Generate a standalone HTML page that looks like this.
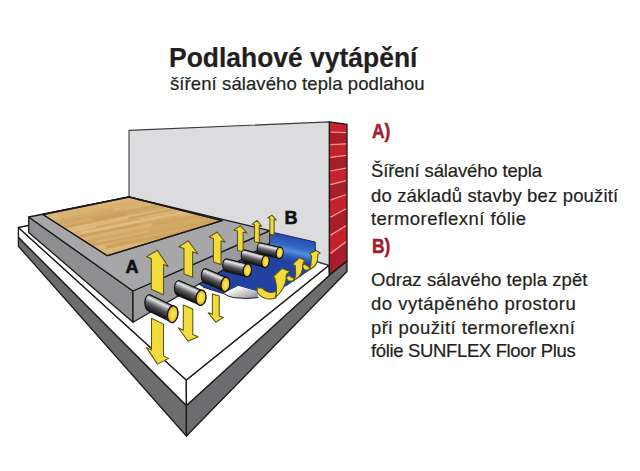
<!DOCTYPE html>
<html><head><meta charset="utf-8">
<style>
html,body{margin:0;padding:0;background:#fff;}
body{width:640px;height:471px;position:relative;overflow:hidden;font-family:"Liberation Sans",sans-serif;color:#231f20;}
.t{position:absolute;white-space:nowrap;line-height:1;-webkit-text-stroke:0.2px #231f20;}
svg{position:absolute;left:0;top:0;}
</style></head><body>
<svg width="640" height="471" viewBox="0 0 640 471">
<defs>
<linearGradient id="pg0" gradientUnits="userSpaceOnUse" x1="164.5" y1="301.7" x2="157.9" y2="315.5"><stop offset="0" stop-color="#303032"/><stop offset=".08" stop-color="#9a9a9c"/><stop offset=".2" stop-color="#e8e8ea"/><stop offset=".32" stop-color="#b0b0b2"/><stop offset=".55" stop-color="#5a5a5c"/><stop offset=".85" stop-color="#252527"/><stop offset="1" stop-color="#101012"/></linearGradient><linearGradient id="pg1" gradientUnits="userSpaceOnUse" x1="192.9" y1="286.5" x2="187.2" y2="299.4"><stop offset="0" stop-color="#303032"/><stop offset=".08" stop-color="#9a9a9c"/><stop offset=".2" stop-color="#e8e8ea"/><stop offset=".32" stop-color="#b0b0b2"/><stop offset=".55" stop-color="#5a5a5c"/><stop offset=".85" stop-color="#252527"/><stop offset="1" stop-color="#101012"/></linearGradient><linearGradient id="pg2" gradientUnits="userSpaceOnUse" x1="218.1" y1="273.9" x2="212.8" y2="286.3"><stop offset="0" stop-color="#303032"/><stop offset=".08" stop-color="#9a9a9c"/><stop offset=".2" stop-color="#e8e8ea"/><stop offset=".32" stop-color="#b0b0b2"/><stop offset=".55" stop-color="#5a5a5c"/><stop offset=".85" stop-color="#252527"/><stop offset="1" stop-color="#101012"/></linearGradient><linearGradient id="pg3" gradientUnits="userSpaceOnUse" x1="238.5" y1="261.7" x2="235.4" y2="273.9"><stop offset="0" stop-color="#303032"/><stop offset=".08" stop-color="#9a9a9c"/><stop offset=".2" stop-color="#e8e8ea"/><stop offset=".32" stop-color="#b0b0b2"/><stop offset=".55" stop-color="#5a5a5c"/><stop offset=".85" stop-color="#252527"/><stop offset="1" stop-color="#101012"/></linearGradient><linearGradient id="pg4" gradientUnits="userSpaceOnUse" x1="256.5" y1="253.1" x2="253.5" y2="264.2"><stop offset="0" stop-color="#303032"/><stop offset=".08" stop-color="#9a9a9c"/><stop offset=".2" stop-color="#e8e8ea"/><stop offset=".32" stop-color="#b0b0b2"/><stop offset=".55" stop-color="#5a5a5c"/><stop offset=".85" stop-color="#252527"/><stop offset="1" stop-color="#101012"/></linearGradient><linearGradient id="pg5" gradientUnits="userSpaceOnUse" x1="271.3" y1="245.3" x2="268.8" y2="255.9"><stop offset="0" stop-color="#303032"/><stop offset=".08" stop-color="#9a9a9c"/><stop offset=".2" stop-color="#e8e8ea"/><stop offset=".32" stop-color="#b0b0b2"/><stop offset=".55" stop-color="#5a5a5c"/><stop offset=".85" stop-color="#252527"/><stop offset="1" stop-color="#101012"/></linearGradient>
<linearGradient id="foilv" gradientUnits="userSpaceOnUse" x1="292.7" y1="236.9" x2="287.8" y2="260.4">
<stop offset="0" stop-color="#284cac"/><stop offset=".4" stop-color="#3468c6"/><stop offset=".6" stop-color="#5590e0"/><stop offset=".8" stop-color="#3060c0"/><stop offset="1" stop-color="#2242a2"/>
</linearGradient>
<linearGradient id="foilh" x1="0" y1="0" x2="0" y2="1">
<stop offset="0" stop-color="#3a70cc"/><stop offset="1" stop-color="#2344a4"/>
</linearGradient>
<linearGradient id="silver" x1="0" y1="0" x2="1" y2="1">
<stop offset="0" stop-color="#d8d8da"/><stop offset=".3" stop-color="#f8f8f8"/><stop offset=".7" stop-color="#b8b8bc"/><stop offset="1" stop-color="#8a8a90"/>
</linearGradient>
<linearGradient id="wood" x1="0" y1="0" x2="1" y2="1">
<stop offset="0" stop-color="#d8b070"/><stop offset="1" stop-color="#cfa35f"/>
</linearGradient>
<clipPath id="woodclip"><polygon points="42.9,214.5 129,197 222,220.6 107.4,255.7"/></clipPath>
</defs>
<g stroke="#1a1a1a" stroke-width="1.3" stroke-linejoin="round">
<polygon points="18.4,237.3 186.4,405.5 186.4,436 18.4,246.2" fill="#6d6d6f"/>
<polygon points="186.4,405.5 329.4,275.3 347,261 347,271.5 186.4,436" fill="#6d6d6f"/>
<polygon points="18.4,227.5 186.3,380 186.4,405.5 18.4,237.3" fill="#fff"/>
<polygon points="186.3,380 328.9,265.3 329.4,275.3 186.4,405.5" fill="#fff"/>
<polygon points="18.4,227.5 129,205 328.9,265.3 186.3,380" fill="#fff"/>
<polygon points="129,130.4 329.4,121.9 329.4,265.3 129,205" fill="#dcdcde" stroke="#3a3a3a" stroke-width="1.1"/>
</g>
<g><polygon points="329.4,121.9 347.0,124.3 347.0,132.7 329.4,132.0" fill="#c7222b"/><polygon points="329.4,132.0 347.0,132.7 347.0,143.8 329.4,144.6" fill="#aa1d2a"/><polygon points="329.4,144.6 347.0,143.8 347.0,155.3 329.4,157.4" fill="#c7222b"/><polygon points="329.4,157.4 347.0,155.3 347.0,168.1 329.4,171.0" fill="#aa1d2a"/><polygon points="329.4,171.0 347.0,168.1 347.0,180.6 329.4,184.6" fill="#c7222b"/><polygon points="329.4,184.6 347.0,180.6 347.0,194.5 329.4,200.2" fill="#aa1d2a"/><polygon points="329.4,200.2 347.0,194.5 347.0,208.7 329.4,217.2" fill="#c7222b"/><polygon points="329.4,217.2 347.0,208.7 347.0,225.7 329.4,235.3" fill="#aa1d2a"/><polygon points="329.4,235.3 347.0,225.7 347.0,241.7 329.4,253.4" fill="#c7222b"/><polygon points="329.4,253.4 347.0,241.7 347.0,261.0 329.4,274.8" fill="#aa1d2a"/></g>
<g stroke="#f2a09c" stroke-width="1.25"><line x1="330.5" y1="132.0" x2="346" y2="132.7"/><line x1="330.5" y1="144.6" x2="346" y2="143.8"/><line x1="330.5" y1="157.4" x2="346" y2="155.3"/><line x1="330.5" y1="171.0" x2="346" y2="168.1"/><line x1="330.5" y1="184.6" x2="346" y2="180.6"/><line x1="330.5" y1="200.2" x2="346" y2="194.5"/><line x1="330.5" y1="217.2" x2="346" y2="208.7"/><line x1="330.5" y1="235.3" x2="346" y2="225.7"/><line x1="330.5" y1="253.4" x2="346" y2="241.7"/></g>
<polygon points="329.4,121.9 347,124.3 347,261 329.4,274.8" fill="none" stroke="#1a1a1a" stroke-width="1.3"/>
<g stroke="#1a1a1a" stroke-width="1.3" stroke-linejoin="round">
<!-- foil -->
<polygon points="196,283 202.9,286.9 214.3,290.7 223.5,293.5 238.2,286 258,291.5 266,294 276,292 288,285 300,277 310,270 315.5,264 315.5,250 270.3,244 269.8,243" fill="#2242a2" stroke="none"/>
<polygon points="270.3,231.8 315.2,242 315.5,263 300,264 285,260 270.3,256" fill="url(#foilv)" stroke="none"/>
<line x1="270.3" y1="231.8" x2="315.2" y2="242" stroke="#1a2a66" stroke-width="1"/>
<line x1="315.2" y1="242" x2="315.5" y2="257" stroke="#1a2a66" stroke-width="1"/>
<path d="M223.5,293.5 L238.2,286 Q248,289.5 258,291.5 L258,297.4 Q246,299.2 233.9,297.4 Z" fill="url(#silver)" stroke="none"/>
<path d="M203,287 Q214,291 223.5,293.5 Q229,297 233.9,297.6 Q246,299.4 258.5,297.6" fill="none" stroke="#222" stroke-width="1"/>
<!-- slab -->
<polygon points="28.7,217 133,291 133,322.2 28.7,232.4" fill="#8e8e91"/>
<polygon points="133,291 269.8,230.7 269.8,243 133,322.2" fill="#9b9b9e"/>
<polygon points="28.7,217 129,197 269.8,230.7 133,291" fill="#a7a7aa"/>
<!-- wood -->
<polygon points="42.9,214.5 129,197 222,220.6 107.4,255.7" fill="url(#wood)"/>
</g>
<g clip-path="url(#woodclip)"><line x1="1.4" y1="220.8" x2="63.4" y2="208.4" stroke="#e6c990" stroke-width="1.8" stroke-opacity="0.37"/><line x1="63.4" y1="208.4" x2="104.9" y2="200.1" stroke="#e6c990" stroke-width="1.8" stroke-opacity="0.37"/><line x1="104.9" y1="200.1" x2="170.8" y2="186.9" stroke="#c99d5c" stroke-width="1.8" stroke-opacity="0.37"/><line x1="170.8" y1="186.9" x2="197.5" y2="181.6" stroke="#c49853" stroke-width="1.8" stroke-opacity="0.37"/><line x1="197.5" y1="181.6" x2="241.3" y2="172.8" stroke="#c99d5c" stroke-width="1.8" stroke-opacity="0.37"/><line x1="6.7" y1="221.7" x2="59.9" y2="211.0" stroke="#e6c990" stroke-width="2.0" stroke-opacity="0.29"/><line x1="59.9" y1="211.0" x2="110.9" y2="200.8" stroke="#c49853" stroke-width="2.0" stroke-opacity="0.29"/><line x1="110.9" y1="200.8" x2="138.1" y2="195.4" stroke="#c99d5c" stroke-width="2.0" stroke-opacity="0.29"/><line x1="138.1" y1="195.4" x2="165.2" y2="190.0" stroke="#c99d5c" stroke-width="2.0" stroke-opacity="0.29"/><line x1="165.2" y1="190.0" x2="203.3" y2="182.4" stroke="#c99d5c" stroke-width="2.0" stroke-opacity="0.29"/><line x1="203.3" y1="182.4" x2="252.6" y2="172.5" stroke="#eacd98" stroke-width="2.0" stroke-opacity="0.29"/><line x1="17.1" y1="221.8" x2="50.6" y2="215.1" stroke="#e6c990" stroke-width="2.8" stroke-opacity="0.28"/><line x1="50.6" y1="215.1" x2="100.2" y2="205.2" stroke="#e6c990" stroke-width="2.8" stroke-opacity="0.28"/><line x1="100.2" y1="205.2" x2="150.6" y2="195.1" stroke="#eacd98" stroke-width="2.8" stroke-opacity="0.28"/><line x1="150.6" y1="195.1" x2="184.9" y2="188.3" stroke="#d2a866" stroke-width="2.8" stroke-opacity="0.28"/><line x1="184.9" y1="188.3" x2="233.8" y2="178.5" stroke="#dfbb7c" stroke-width="2.8" stroke-opacity="0.28"/><line x1="233.8" y1="178.5" x2="279.8" y2="169.3" stroke="#c49853" stroke-width="2.8" stroke-opacity="0.28"/><line x1="7.3" y1="226.1" x2="58.2" y2="215.9" stroke="#eacd98" stroke-width="1.7" stroke-opacity="0.46"/><line x1="58.2" y1="215.9" x2="105.5" y2="206.5" stroke="#dfbb7c" stroke-width="1.7" stroke-opacity="0.46"/><line x1="105.5" y1="206.5" x2="163.3" y2="194.9" stroke="#dfbb7c" stroke-width="1.7" stroke-opacity="0.46"/><line x1="163.3" y1="194.9" x2="215.7" y2="184.4" stroke="#e6c990" stroke-width="1.7" stroke-opacity="0.46"/><line x1="215.7" y1="184.4" x2="246.0" y2="178.3" stroke="#c49853" stroke-width="1.7" stroke-opacity="0.46"/><line x1="28.9" y1="223.8" x2="57.4" y2="218.1" stroke="#eacd98" stroke-width="1.9" stroke-opacity="0.38"/><line x1="57.4" y1="218.1" x2="108.1" y2="207.9" stroke="#dfbb7c" stroke-width="1.9" stroke-opacity="0.38"/><line x1="108.1" y1="207.9" x2="148.4" y2="199.9" stroke="#dfbb7c" stroke-width="1.9" stroke-opacity="0.38"/><line x1="148.4" y1="199.9" x2="200.2" y2="189.5" stroke="#eacd98" stroke-width="1.9" stroke-opacity="0.38"/><line x1="200.2" y1="189.5" x2="261.1" y2="177.4" stroke="#e6c990" stroke-width="1.9" stroke-opacity="0.38"/><line x1="1.9" y1="232.2" x2="59.9" y2="220.6" stroke="#dfbb7c" stroke-width="3.1" stroke-opacity="0.46"/><line x1="59.9" y1="220.6" x2="114.0" y2="209.8" stroke="#d2a866" stroke-width="3.1" stroke-opacity="0.46"/><line x1="114.0" y1="209.8" x2="176.0" y2="197.4" stroke="#dfbb7c" stroke-width="3.1" stroke-opacity="0.46"/><line x1="176.0" y1="197.4" x2="233.2" y2="185.9" stroke="#d2a866" stroke-width="3.1" stroke-opacity="0.46"/><line x1="233.2" y1="185.9" x2="273.8" y2="177.8" stroke="#c49853" stroke-width="3.1" stroke-opacity="0.46"/><line x1="23.0" y1="230.2" x2="53.9" y2="224.1" stroke="#c99d5c" stroke-width="2.4" stroke-opacity="0.27"/><line x1="53.9" y1="224.1" x2="96.8" y2="215.5" stroke="#c49853" stroke-width="2.4" stroke-opacity="0.27"/><line x1="96.8" y1="215.5" x2="125.4" y2="209.8" stroke="#c49853" stroke-width="2.4" stroke-opacity="0.27"/><line x1="125.4" y1="209.8" x2="168.5" y2="201.2" stroke="#dfbb7c" stroke-width="2.4" stroke-opacity="0.27"/><line x1="168.5" y1="201.2" x2="233.2" y2="188.2" stroke="#c49853" stroke-width="2.4" stroke-opacity="0.27"/><line x1="233.2" y1="188.2" x2="297.1" y2="175.4" stroke="#dfbb7c" stroke-width="2.4" stroke-opacity="0.27"/><line x1="28.7" y1="231.9" x2="60.5" y2="225.5" stroke="#c99d5c" stroke-width="3.2" stroke-opacity="0.52"/><line x1="60.5" y1="225.5" x2="92.3" y2="219.2" stroke="#d2a866" stroke-width="3.2" stroke-opacity="0.52"/><line x1="92.3" y1="219.2" x2="127.8" y2="212.1" stroke="#c49853" stroke-width="3.2" stroke-opacity="0.52"/><line x1="127.8" y1="212.1" x2="190.2" y2="199.6" stroke="#c99d5c" stroke-width="3.2" stroke-opacity="0.52"/><line x1="190.2" y1="199.6" x2="227.1" y2="192.2" stroke="#e6c990" stroke-width="3.2" stroke-opacity="0.52"/><line x1="227.1" y1="192.2" x2="258.6" y2="185.9" stroke="#eacd98" stroke-width="3.2" stroke-opacity="0.52"/><line x1="15.5" y1="236.9" x2="68.3" y2="226.3" stroke="#d2a866" stroke-width="2.3" stroke-opacity="0.46"/><line x1="68.3" y1="226.3" x2="126.5" y2="214.6" stroke="#c49853" stroke-width="2.3" stroke-opacity="0.46"/><line x1="126.5" y1="214.6" x2="192.0" y2="201.6" stroke="#d2a866" stroke-width="2.3" stroke-opacity="0.46"/><line x1="192.0" y1="201.6" x2="252.9" y2="189.4" stroke="#c49853" stroke-width="2.3" stroke-opacity="0.46"/><line x1="1.9" y1="241.9" x2="29.9" y2="236.3" stroke="#c99d5c" stroke-width="2.0" stroke-opacity="0.44"/><line x1="29.9" y1="236.3" x2="74.7" y2="227.4" stroke="#e6c990" stroke-width="2.0" stroke-opacity="0.44"/><line x1="74.7" y1="227.4" x2="115.0" y2="219.3" stroke="#e6c990" stroke-width="2.0" stroke-opacity="0.44"/><line x1="115.0" y1="219.3" x2="144.6" y2="213.4" stroke="#eacd98" stroke-width="2.0" stroke-opacity="0.44"/><line x1="144.6" y1="213.4" x2="176.4" y2="207.0" stroke="#e6c990" stroke-width="2.0" stroke-opacity="0.44"/><line x1="176.4" y1="207.0" x2="244.1" y2="193.5" stroke="#eacd98" stroke-width="2.0" stroke-opacity="0.44"/><line x1="19.0" y1="240.3" x2="87.0" y2="226.7" stroke="#eacd98" stroke-width="2.9" stroke-opacity="0.36"/><line x1="87.0" y1="226.7" x2="128.4" y2="218.5" stroke="#e6c990" stroke-width="2.9" stroke-opacity="0.36"/><line x1="128.4" y1="218.5" x2="158.6" y2="212.4" stroke="#c49853" stroke-width="2.9" stroke-opacity="0.36"/><line x1="158.6" y1="212.4" x2="228.3" y2="198.5" stroke="#c49853" stroke-width="2.9" stroke-opacity="0.36"/><line x1="228.3" y1="198.5" x2="274.9" y2="189.2" stroke="#dfbb7c" stroke-width="2.9" stroke-opacity="0.36"/><line x1="14.4" y1="243.2" x2="70.5" y2="232.0" stroke="#eacd98" stroke-width="1.4" stroke-opacity="0.47"/><line x1="70.5" y1="232.0" x2="96.5" y2="226.8" stroke="#eacd98" stroke-width="1.4" stroke-opacity="0.47"/><line x1="96.5" y1="226.8" x2="137.8" y2="218.5" stroke="#d2a866" stroke-width="1.4" stroke-opacity="0.47"/><line x1="137.8" y1="218.5" x2="187.3" y2="208.6" stroke="#e6c990" stroke-width="1.4" stroke-opacity="0.47"/><line x1="187.3" y1="208.6" x2="246.4" y2="196.8" stroke="#dfbb7c" stroke-width="1.4" stroke-opacity="0.47"/><line x1="15.6" y1="246.1" x2="81.4" y2="233.0" stroke="#dfbb7c" stroke-width="2.9" stroke-opacity="0.50"/><line x1="81.4" y1="233.0" x2="141.2" y2="221.0" stroke="#eacd98" stroke-width="2.9" stroke-opacity="0.50"/><line x1="141.2" y1="221.0" x2="190.5" y2="211.1" stroke="#eacd98" stroke-width="2.9" stroke-opacity="0.50"/><line x1="190.5" y1="211.1" x2="230.4" y2="203.2" stroke="#c99d5c" stroke-width="2.9" stroke-opacity="0.50"/><line x1="230.4" y1="203.2" x2="283.0" y2="192.6" stroke="#c99d5c" stroke-width="2.9" stroke-opacity="0.50"/><line x1="6.0" y1="251.0" x2="53.2" y2="241.5" stroke="#d2a866" stroke-width="2.8" stroke-opacity="0.49"/><line x1="53.2" y1="241.5" x2="79.5" y2="236.3" stroke="#e6c990" stroke-width="2.8" stroke-opacity="0.49"/><line x1="79.5" y1="236.3" x2="140.0" y2="224.2" stroke="#c49853" stroke-width="2.8" stroke-opacity="0.49"/><line x1="140.0" y1="224.2" x2="176.7" y2="216.8" stroke="#d2a866" stroke-width="2.8" stroke-opacity="0.49"/><line x1="176.7" y1="216.8" x2="228.9" y2="206.4" stroke="#dfbb7c" stroke-width="2.8" stroke-opacity="0.49"/><line x1="228.9" y1="206.4" x2="274.1" y2="197.4" stroke="#d2a866" stroke-width="2.8" stroke-opacity="0.49"/><line x1="3.1" y1="254.7" x2="49.2" y2="245.5" stroke="#dfbb7c" stroke-width="3.1" stroke-opacity="0.27"/><line x1="49.2" y1="245.5" x2="83.4" y2="238.7" stroke="#eacd98" stroke-width="3.1" stroke-opacity="0.27"/><line x1="83.4" y1="238.7" x2="152.8" y2="224.8" stroke="#eacd98" stroke-width="3.1" stroke-opacity="0.27"/><line x1="152.8" y1="224.8" x2="215.6" y2="212.2" stroke="#c49853" stroke-width="3.1" stroke-opacity="0.27"/><line x1="215.6" y1="212.2" x2="281.5" y2="199.1" stroke="#dfbb7c" stroke-width="3.1" stroke-opacity="0.27"/><line x1="11.7" y1="255.9" x2="68.7" y2="244.5" stroke="#c99d5c" stroke-width="1.4" stroke-opacity="0.29"/><line x1="68.7" y1="244.5" x2="115.2" y2="235.2" stroke="#c99d5c" stroke-width="1.4" stroke-opacity="0.29"/><line x1="115.2" y1="235.2" x2="159.7" y2="226.3" stroke="#d2a866" stroke-width="1.4" stroke-opacity="0.29"/><line x1="159.7" y1="226.3" x2="199.7" y2="218.3" stroke="#d2a866" stroke-width="1.4" stroke-opacity="0.29"/><line x1="199.7" y1="218.3" x2="242.5" y2="209.8" stroke="#c49853" stroke-width="1.4" stroke-opacity="0.29"/><line x1="3.8" y1="260.3" x2="35.6" y2="254.0" stroke="#c49853" stroke-width="1.4" stroke-opacity="0.30"/><line x1="35.6" y1="254.0" x2="96.9" y2="241.7" stroke="#c99d5c" stroke-width="1.4" stroke-opacity="0.30"/><line x1="96.9" y1="241.7" x2="149.4" y2="231.2" stroke="#eacd98" stroke-width="1.4" stroke-opacity="0.30"/><line x1="149.4" y1="231.2" x2="218.5" y2="217.4" stroke="#d2a866" stroke-width="1.4" stroke-opacity="0.30"/><line x1="218.5" y1="217.4" x2="285.7" y2="204.0" stroke="#c99d5c" stroke-width="1.4" stroke-opacity="0.30"/><line x1="21.8" y1="259.3" x2="51.4" y2="253.4" stroke="#d2a866" stroke-width="1.5" stroke-opacity="0.49"/><line x1="51.4" y1="253.4" x2="118.4" y2="240.0" stroke="#c49853" stroke-width="1.5" stroke-opacity="0.49"/><line x1="118.4" y1="240.0" x2="187.8" y2="226.1" stroke="#c99d5c" stroke-width="1.5" stroke-opacity="0.49"/><line x1="187.8" y1="226.1" x2="250.0" y2="213.7" stroke="#c99d5c" stroke-width="1.5" stroke-opacity="0.49"/><line x1="17.6" y1="262.0" x2="54.3" y2="254.7" stroke="#c49853" stroke-width="1.6" stroke-opacity="0.32"/><line x1="54.3" y1="254.7" x2="116.8" y2="242.2" stroke="#e6c990" stroke-width="1.6" stroke-opacity="0.32"/><line x1="116.8" y1="242.2" x2="182.8" y2="229.0" stroke="#dfbb7c" stroke-width="1.6" stroke-opacity="0.32"/><line x1="182.8" y1="229.0" x2="248.2" y2="215.9" stroke="#d2a866" stroke-width="1.6" stroke-opacity="0.32"/><line x1="26.3" y1="262.9" x2="57.2" y2="256.7" stroke="#c99d5c" stroke-width="3.0" stroke-opacity="0.50"/><line x1="57.2" y1="256.7" x2="105.8" y2="247.0" stroke="#e6c990" stroke-width="3.0" stroke-opacity="0.50"/><line x1="105.8" y1="247.0" x2="170.1" y2="234.1" stroke="#c99d5c" stroke-width="3.0" stroke-opacity="0.50"/><line x1="170.1" y1="234.1" x2="222.4" y2="223.6" stroke="#c99d5c" stroke-width="3.0" stroke-opacity="0.50"/><line x1="222.4" y1="223.6" x2="255.2" y2="217.1" stroke="#c49853" stroke-width="3.0" stroke-opacity="0.50"/><line x1="15.6" y1="267.7" x2="65.5" y2="257.7" stroke="#e6c990" stroke-width="1.4" stroke-opacity="0.35"/><line x1="65.5" y1="257.7" x2="130.3" y2="244.7" stroke="#e6c990" stroke-width="1.4" stroke-opacity="0.35"/><line x1="130.3" y1="244.7" x2="166.5" y2="237.5" stroke="#dfbb7c" stroke-width="1.4" stroke-opacity="0.35"/><line x1="166.5" y1="237.5" x2="193.4" y2="232.1" stroke="#e6c990" stroke-width="1.4" stroke-opacity="0.35"/><line x1="193.4" y1="232.1" x2="241.2" y2="222.6" stroke="#eacd98" stroke-width="1.4" stroke-opacity="0.35"/><line x1="18.4" y1="269.0" x2="66.1" y2="259.4" stroke="#eacd98" stroke-width="3.0" stroke-opacity="0.38"/><line x1="66.1" y1="259.4" x2="100.1" y2="252.6" stroke="#dfbb7c" stroke-width="3.0" stroke-opacity="0.38"/><line x1="100.1" y1="252.6" x2="145.5" y2="243.5" stroke="#eacd98" stroke-width="3.0" stroke-opacity="0.38"/><line x1="145.5" y1="243.5" x2="206.8" y2="231.3" stroke="#eacd98" stroke-width="3.0" stroke-opacity="0.38"/><line x1="206.8" y1="231.3" x2="274.2" y2="217.8" stroke="#d2a866" stroke-width="3.0" stroke-opacity="0.38"/><line x1="26.8" y1="269.8" x2="60.9" y2="263.0" stroke="#c49853" stroke-width="3.0" stroke-opacity="0.53"/><line x1="60.9" y1="263.0" x2="92.1" y2="256.8" stroke="#e6c990" stroke-width="3.0" stroke-opacity="0.53"/><line x1="92.1" y1="256.8" x2="134.7" y2="248.2" stroke="#dfbb7c" stroke-width="3.0" stroke-opacity="0.53"/><line x1="134.7" y1="248.2" x2="163.0" y2="242.6" stroke="#c99d5c" stroke-width="3.0" stroke-opacity="0.53"/><line x1="163.0" y1="242.6" x2="207.3" y2="233.7" stroke="#c99d5c" stroke-width="3.0" stroke-opacity="0.53"/><line x1="207.3" y1="233.7" x2="262.4" y2="222.7" stroke="#e6c990" stroke-width="3.0" stroke-opacity="0.53"/><line x1="11.0" y1="276.0" x2="47.4" y2="268.8" stroke="#c99d5c" stroke-width="1.5" stroke-opacity="0.44"/><line x1="47.4" y1="268.8" x2="115.9" y2="255.0" stroke="#c99d5c" stroke-width="1.5" stroke-opacity="0.44"/><line x1="115.9" y1="255.0" x2="174.5" y2="243.3" stroke="#e6c990" stroke-width="1.5" stroke-opacity="0.44"/><line x1="174.5" y1="243.3" x2="217.4" y2="234.7" stroke="#c49853" stroke-width="1.5" stroke-opacity="0.44"/><line x1="217.4" y1="234.7" x2="249.8" y2="228.3" stroke="#d2a866" stroke-width="1.5" stroke-opacity="0.44"/><line x1="12.1" y1="278.8" x2="56.1" y2="270.0" stroke="#dfbb7c" stroke-width="1.5" stroke-opacity="0.55"/><line x1="56.1" y1="270.0" x2="95.4" y2="262.1" stroke="#d2a866" stroke-width="1.5" stroke-opacity="0.55"/><line x1="95.4" y1="262.1" x2="136.9" y2="253.8" stroke="#dfbb7c" stroke-width="1.5" stroke-opacity="0.55"/><line x1="136.9" y1="253.8" x2="186.8" y2="243.8" stroke="#c49853" stroke-width="1.5" stroke-opacity="0.55"/><line x1="186.8" y1="243.8" x2="243.4" y2="232.5" stroke="#c49853" stroke-width="1.5" stroke-opacity="0.55"/><line x1="3.4" y1="282.8" x2="69.7" y2="269.5" stroke="#c99d5c" stroke-width="2.4" stroke-opacity="0.54"/><line x1="69.7" y1="269.5" x2="138.4" y2="255.8" stroke="#e6c990" stroke-width="2.4" stroke-opacity="0.54"/><line x1="138.4" y1="255.8" x2="167.2" y2="250.0" stroke="#dfbb7c" stroke-width="2.4" stroke-opacity="0.54"/><line x1="167.2" y1="250.0" x2="194.0" y2="244.7" stroke="#c99d5c" stroke-width="2.4" stroke-opacity="0.54"/><line x1="194.0" y1="244.7" x2="231.2" y2="237.2" stroke="#c99d5c" stroke-width="2.4" stroke-opacity="0.54"/><line x1="231.2" y1="237.2" x2="293.1" y2="224.8" stroke="#d2a866" stroke-width="2.4" stroke-opacity="0.54"/><line x1="15.4" y1="283.3" x2="62.7" y2="273.9" stroke="#dfbb7c" stroke-width="1.7" stroke-opacity="0.41"/><line x1="62.7" y1="273.9" x2="91.7" y2="268.1" stroke="#e6c990" stroke-width="1.7" stroke-opacity="0.41"/><line x1="91.7" y1="268.1" x2="152.7" y2="255.9" stroke="#c99d5c" stroke-width="1.7" stroke-opacity="0.41"/><line x1="152.7" y1="255.9" x2="196.8" y2="247.0" stroke="#e6c990" stroke-width="1.7" stroke-opacity="0.41"/><line x1="196.8" y1="247.0" x2="233.9" y2="239.6" stroke="#e6c990" stroke-width="1.7" stroke-opacity="0.41"/><line x1="233.9" y1="239.6" x2="287.5" y2="228.9" stroke="#dfbb7c" stroke-width="1.7" stroke-opacity="0.41"/><line x1="3.7" y1="287.6" x2="29.2" y2="282.5" stroke="#eacd98" stroke-width="2.9" stroke-opacity="0.33"/><line x1="29.2" y1="282.5" x2="73.0" y2="273.7" stroke="#dfbb7c" stroke-width="2.9" stroke-opacity="0.33"/><line x1="73.0" y1="273.7" x2="125.9" y2="263.1" stroke="#e6c990" stroke-width="2.9" stroke-opacity="0.33"/><line x1="125.9" y1="263.1" x2="174.7" y2="253.4" stroke="#c99d5c" stroke-width="2.9" stroke-opacity="0.33"/><line x1="174.7" y1="253.4" x2="241.9" y2="239.9" stroke="#c99d5c" stroke-width="2.9" stroke-opacity="0.33"/><line x1="15.9" y1="287.3" x2="50.2" y2="280.4" stroke="#c49853" stroke-width="1.6" stroke-opacity="0.44"/><line x1="50.2" y1="280.4" x2="97.7" y2="270.9" stroke="#c99d5c" stroke-width="1.6" stroke-opacity="0.44"/><line x1="97.7" y1="270.9" x2="134.9" y2="263.5" stroke="#e6c990" stroke-width="1.6" stroke-opacity="0.44"/><line x1="134.9" y1="263.5" x2="204.6" y2="249.6" stroke="#e6c990" stroke-width="1.6" stroke-opacity="0.44"/><line x1="204.6" y1="249.6" x2="230.3" y2="244.4" stroke="#d2a866" stroke-width="1.6" stroke-opacity="0.44"/><line x1="230.3" y1="244.4" x2="278.1" y2="234.9" stroke="#c99d5c" stroke-width="1.6" stroke-opacity="0.44"/><line x1="24.6" y1="288.1" x2="69.0" y2="279.2" stroke="#c49853" stroke-width="1.7" stroke-opacity="0.28"/><line x1="69.0" y1="279.2" x2="118.6" y2="269.3" stroke="#c49853" stroke-width="1.7" stroke-opacity="0.28"/><line x1="118.6" y1="269.3" x2="187.2" y2="255.6" stroke="#dfbb7c" stroke-width="1.7" stroke-opacity="0.28"/><line x1="187.2" y1="255.6" x2="243.2" y2="244.4" stroke="#c99d5c" stroke-width="1.7" stroke-opacity="0.28"/><line x1="4.2" y1="294.5" x2="73.7" y2="280.5" stroke="#e6c990" stroke-width="2.9" stroke-opacity="0.47"/><line x1="73.7" y1="280.5" x2="136.4" y2="268.0" stroke="#e6c990" stroke-width="2.9" stroke-opacity="0.47"/><line x1="136.4" y1="268.0" x2="164.6" y2="262.4" stroke="#d2a866" stroke-width="2.9" stroke-opacity="0.47"/><line x1="164.6" y1="262.4" x2="229.2" y2="249.5" stroke="#c49853" stroke-width="2.9" stroke-opacity="0.47"/><line x1="229.2" y1="249.5" x2="261.5" y2="243.0" stroke="#e6c990" stroke-width="2.9" stroke-opacity="0.47"/><line x1="8.5" y1="296.3" x2="44.4" y2="289.1" stroke="#dfbb7c" stroke-width="2.0" stroke-opacity="0.45"/><line x1="44.4" y1="289.1" x2="71.4" y2="283.7" stroke="#c99d5c" stroke-width="2.0" stroke-opacity="0.45"/><line x1="71.4" y1="283.7" x2="103.5" y2="277.3" stroke="#c49853" stroke-width="2.0" stroke-opacity="0.45"/><line x1="103.5" y1="277.3" x2="128.6" y2="272.3" stroke="#dfbb7c" stroke-width="2.0" stroke-opacity="0.45"/><line x1="128.6" y1="272.3" x2="196.9" y2="258.6" stroke="#eacd98" stroke-width="2.0" stroke-opacity="0.45"/><line x1="196.9" y1="258.6" x2="236.5" y2="250.7" stroke="#e6c990" stroke-width="2.0" stroke-opacity="0.45"/><line x1="236.5" y1="250.7" x2="304.9" y2="237.0" stroke="#dfbb7c" stroke-width="2.0" stroke-opacity="0.45"/><line x1="14.2" y1="297.3" x2="61.9" y2="287.8" stroke="#c99d5c" stroke-width="1.6" stroke-opacity="0.36"/><line x1="61.9" y1="287.8" x2="98.0" y2="280.5" stroke="#e6c990" stroke-width="1.6" stroke-opacity="0.36"/><line x1="98.0" y1="280.5" x2="127.1" y2="274.7" stroke="#e6c990" stroke-width="1.6" stroke-opacity="0.36"/><line x1="127.1" y1="274.7" x2="158.6" y2="268.4" stroke="#eacd98" stroke-width="1.6" stroke-opacity="0.36"/><line x1="158.6" y1="268.4" x2="185.5" y2="263.0" stroke="#e6c990" stroke-width="1.6" stroke-opacity="0.36"/><line x1="185.5" y1="263.0" x2="224.0" y2="255.3" stroke="#d2a866" stroke-width="1.6" stroke-opacity="0.36"/><line x1="224.0" y1="255.3" x2="259.4" y2="248.2" stroke="#eacd98" stroke-width="1.6" stroke-opacity="0.36"/><line x1="21.5" y1="299.0" x2="86.0" y2="286.1" stroke="#c49853" stroke-width="2.9" stroke-opacity="0.45"/><line x1="86.0" y1="286.1" x2="145.4" y2="274.2" stroke="#d2a866" stroke-width="2.9" stroke-opacity="0.45"/><line x1="145.4" y1="274.2" x2="214.7" y2="260.3" stroke="#c99d5c" stroke-width="2.9" stroke-opacity="0.45"/><line x1="214.7" y1="260.3" x2="252.5" y2="252.8" stroke="#eacd98" stroke-width="2.9" stroke-opacity="0.45"/><line x1="18.8" y1="302.2" x2="76.8" y2="290.6" stroke="#eacd98" stroke-width="1.3" stroke-opacity="0.52"/><line x1="76.8" y1="290.6" x2="108.1" y2="284.3" stroke="#eacd98" stroke-width="1.3" stroke-opacity="0.52"/><line x1="108.1" y1="284.3" x2="167.0" y2="272.6" stroke="#eacd98" stroke-width="1.3" stroke-opacity="0.52"/><line x1="167.0" y1="272.6" x2="229.6" y2="260.1" stroke="#e6c990" stroke-width="1.3" stroke-opacity="0.52"/><line x1="229.6" y1="260.1" x2="291.8" y2="247.6" stroke="#eacd98" stroke-width="1.3" stroke-opacity="0.52"/><line x1="2.6" y1="308.4" x2="29.4" y2="303.0" stroke="#d2a866" stroke-width="2.6" stroke-opacity="0.44"/><line x1="29.4" y1="303.0" x2="70.7" y2="294.7" stroke="#e6c990" stroke-width="2.6" stroke-opacity="0.44"/><line x1="70.7" y1="294.7" x2="112.6" y2="286.4" stroke="#c49853" stroke-width="2.6" stroke-opacity="0.44"/><line x1="112.6" y1="286.4" x2="162.7" y2="276.3" stroke="#d2a866" stroke-width="2.6" stroke-opacity="0.44"/><line x1="162.7" y1="276.3" x2="188.6" y2="271.2" stroke="#eacd98" stroke-width="2.6" stroke-opacity="0.44"/><line x1="188.6" y1="271.2" x2="244.2" y2="260.0" stroke="#c49853" stroke-width="2.6" stroke-opacity="0.44"/><line x1="15.1" y1="308.0" x2="64.2" y2="298.2" stroke="#d2a866" stroke-width="2.1" stroke-opacity="0.47"/><line x1="64.2" y1="298.2" x2="112.8" y2="288.5" stroke="#d2a866" stroke-width="2.1" stroke-opacity="0.47"/><line x1="112.8" y1="288.5" x2="171.0" y2="276.9" stroke="#dfbb7c" stroke-width="2.1" stroke-opacity="0.47"/><line x1="171.0" y1="276.9" x2="232.4" y2="264.6" stroke="#dfbb7c" stroke-width="2.1" stroke-opacity="0.47"/><line x1="232.4" y1="264.6" x2="268.0" y2="257.5" stroke="#c99d5c" stroke-width="2.1" stroke-opacity="0.47"/><line x1="11.5" y1="310.9" x2="58.0" y2="301.6" stroke="#d2a866" stroke-width="2.5" stroke-opacity="0.40"/><line x1="58.0" y1="301.6" x2="96.0" y2="294.0" stroke="#e6c990" stroke-width="2.5" stroke-opacity="0.40"/><line x1="96.0" y1="294.0" x2="148.7" y2="283.4" stroke="#d2a866" stroke-width="2.5" stroke-opacity="0.40"/><line x1="148.7" y1="283.4" x2="182.6" y2="276.6" stroke="#eacd98" stroke-width="2.5" stroke-opacity="0.40"/><line x1="182.6" y1="276.6" x2="214.3" y2="270.3" stroke="#dfbb7c" stroke-width="2.5" stroke-opacity="0.40"/><line x1="214.3" y1="270.3" x2="268.6" y2="259.5" stroke="#d2a866" stroke-width="2.5" stroke-opacity="0.40"/><line x1="14.6" y1="312.5" x2="83.3" y2="298.7" stroke="#e6c990" stroke-width="2.3" stroke-opacity="0.39"/><line x1="83.3" y1="298.7" x2="139.5" y2="287.5" stroke="#d2a866" stroke-width="2.3" stroke-opacity="0.39"/><line x1="139.5" y1="287.5" x2="186.5" y2="278.1" stroke="#d2a866" stroke-width="2.3" stroke-opacity="0.39"/><line x1="186.5" y1="278.1" x2="234.8" y2="268.4" stroke="#c49853" stroke-width="2.3" stroke-opacity="0.39"/><line x1="234.8" y1="268.4" x2="280.7" y2="259.3" stroke="#e6c990" stroke-width="2.3" stroke-opacity="0.39"/></g>
<polygon points="42.9,214.5 129,197 222,220.6 107.4,255.7" fill="none" stroke="#1a1a1a" stroke-width="1.3" stroke-linejoin="round"/>
<g stroke="#5a5218" stroke-width="1.05" stroke-linejoin="round" fill="#f2dc3c">
<polygon points="157.4,250.3 168.2,266.6 163.5,264.4 163.5,294.8 151.3,289.2 151.3,258.8 146.6,256.6" class="ar"/><polygon points="188.3,240.9 197.9,253.7 192.6,251.8 192.6,277.2 184.0,274.0 184.0,248.6 178.8,246.7" class="ar"/><polygon points="217.2,232.0 225.2,242.2 221.0,240.8 221.0,264.4 213.4,262.0 213.4,238.4 209.2,237.0" class="ar"/><polygon points="240.3,225.7 247.0,233.1 243.1,232.2 243.1,251.8 237.5,250.6 237.5,231.0 233.6,230.1" class="ar"/><polygon points="256.9,220.4 261.7,226.3 259.3,225.7 259.3,242.7 254.5,241.7 254.5,224.7 252.1,224.1" class="ar"/><polygon points="272.0,215.1 276.2,219.9 274.1,219.4 274.1,235.3 269.9,234.1 269.9,218.2 267.8,217.7" class="ar"/>
</g>
<g><path d="M172.7,305.7 L149.7,294.5 A4.9,8.5 0 0 0 149.7,311.5 L172.7,322.7 Z" fill="url(#pg0)" stroke="#111" stroke-width="1.1"/><ellipse cx="172.7" cy="314.2" rx="5.2" ry="8.5" transform="rotate(8 172.7 314.2)" fill="#d9a523" stroke="#111" stroke-width="1.3"/><ellipse cx="172.9" cy="314.2" rx="4.1" ry="7.0" transform="rotate(8 172.7 314.2)" fill="#f3cf27"/><ellipse cx="173.1" cy="314.2" rx="2.3" ry="4.2" transform="rotate(8 172.7 314.2)" fill="#f8e35e"/><path d="M201.0,290.0 L179.1,280.5 A4.8,7.7 0 0 0 179.1,295.9 L201.0,305.4 Z" fill="url(#pg1)" stroke="#111" stroke-width="1.1"/><ellipse cx="201.0" cy="297.7" rx="5.0" ry="7.7" transform="rotate(8 201.0 297.7)" fill="#d9a523" stroke="#111" stroke-width="1.3"/><ellipse cx="201.2" cy="297.7" rx="3.9" ry="6.3" transform="rotate(8 201.0 297.7)" fill="#f3cf27"/><ellipse cx="201.4" cy="297.7" rx="2.2" ry="3.9" transform="rotate(8 201.0 297.7)" fill="#f8e35e"/><path d="M225.4,277.1 L205.5,268.5 A4.2,7.3 0 0 0 205.5,283.1 L225.4,291.7 Z" fill="url(#pg2)" stroke="#111" stroke-width="1.1"/><ellipse cx="225.4" cy="284.4" rx="4.4" ry="7.3" transform="rotate(8 225.4 284.4)" fill="#d9a523" stroke="#111" stroke-width="1.3"/><ellipse cx="225.6" cy="284.4" rx="3.4" ry="6.0" transform="rotate(8 225.4 284.4)" fill="#f3cf27"/><ellipse cx="225.8" cy="284.4" rx="2.0" ry="3.6" transform="rotate(8 225.4 284.4)" fill="#f8e35e"/><path d="M247.3,263.9 L226.6,258.7 A3.9,6.5 0 0 0 226.6,271.7 L247.3,276.9 Z" fill="url(#pg3)" stroke="#111" stroke-width="1.1"/><ellipse cx="247.3" cy="270.4" rx="4.1" ry="6.5" transform="rotate(8 247.3 270.4)" fill="#d9a523" stroke="#111" stroke-width="1.3"/><ellipse cx="247.5" cy="270.4" rx="3.2" ry="5.3" transform="rotate(8 247.3 270.4)" fill="#f3cf27"/><ellipse cx="247.7" cy="270.4" rx="1.8" ry="3.2" transform="rotate(8 247.3 270.4)" fill="#f8e35e"/><path d="M265.4,255.5 L244.6,249.8 A3.4,6.0 0 0 0 244.6,261.8 L265.4,267.5 Z" fill="url(#pg4)" stroke="#111" stroke-width="1.1"/><ellipse cx="265.4" cy="261.5" rx="3.6" ry="6.0" transform="rotate(8 265.4 261.5)" fill="#d9a523" stroke="#111" stroke-width="1.3"/><ellipse cx="265.6" cy="261.5" rx="2.8" ry="4.9" transform="rotate(8 265.4 261.5)" fill="#f3cf27"/><ellipse cx="265.8" cy="261.5" rx="1.6" ry="3.0" transform="rotate(8 265.4 261.5)" fill="#f8e35e"/><path d="M279.6,247.2 L260.5,242.8 A3.2,5.6 0 0 0 260.5,254.0 L279.6,258.4 Z" fill="url(#pg5)" stroke="#111" stroke-width="1.1"/><ellipse cx="279.6" cy="252.8" rx="3.4" ry="5.6" transform="rotate(8 279.6 252.8)" fill="#d9a523" stroke="#111" stroke-width="1.3"/><ellipse cx="279.8" cy="252.8" rx="2.7" ry="4.6" transform="rotate(8 279.6 252.8)" fill="#f3cf27"/><ellipse cx="280.0" cy="252.8" rx="1.5" ry="2.8" transform="rotate(8 279.6 252.8)" fill="#f8e35e"/></g>
<g stroke="#5a5218" stroke-width="1.05" stroke-linejoin="round" fill="#f2dc3c">
<polygon points="151.5,318.3 163.5,324.1 163.5,355.9 168.6,358.4 157.5,364.1 146.4,347.6 151.5,350.1" class="ar"/><polygon points="183.3,304.9 192.8,309.1 192.8,334.4 198.0,336.8 188.1,341.2 178.2,327.8 183.3,330.2" class="ar"/><polygon points="212.4,294.0 219.2,296.0 219.2,316.1 223.5,317.4 215.8,322.2 208.2,312.8 212.4,314.1" class="ar"/>
<path d="M256.9,287.7 L261.8,287.9 Q266,292.3 271.8,292.6 L276.5,291.5 L275.8,298 Q271,299.6 266.5,298.8 Q260.5,297 257.4,292.5 Z M275.3,297.5 Q277.3,292 276.3,285 L274.8,277.7 L272.7,277.3 L282,268.4 L289.7,271.3 L286.3,274.7 Q286.5,283 282,290 Q279,294.5 275.3,297.5 Z"/><path d="M286.4,276.4 L289.6,275.8 Q291.5,278.3 294,278 L294.5,280.5 Q291,281.6 288.1,280.7 Q286.6,279.5 286.4,276.4 Z M293.2,280.5 Q295.8,277.5 295.7,273.9 L295.3,265.4 L292.3,264.6 L299.6,257.7 L305.5,260.7 L303.4,262 Q303.2,268.5 301.3,273 Q298.8,278 293.2,280.5 Z"/><path d="M302.6,264.6 L305.2,264.2 Q306.6,266.5 309,266.3 L309.4,269.5 Q306.5,270.8 304.2,269.8 Q302.8,268.2 302.6,264.6 Z M308.5,270 Q311,268 311.1,262 L311.5,256 L309.8,253.5 L316.1,250.5 L320.4,253.1 L317.8,254.4 Q317.9,259 317,262 Q315.5,267 308.5,270 Z"/>
</g>
<text x="125.6" y="273.2" font-family="Liberation Sans" font-weight="bold" font-size="19" fill="#111" stroke="#111" stroke-width="0.6" transform="translate(125.6 0) scale(0.95 1) translate(-125.6 0)">A</text>
<text x="284.6" y="224" font-family="Liberation Sans" font-weight="bold" font-size="19" fill="#111" stroke="#111" stroke-width="0.6" transform="translate(284.6 0) scale(0.95 1) translate(-284.6 0)">B</text>
</svg>
<div class="t" style="left:169.2px;top:44.1px;font-size:27.5px;font-weight:bold;transform:scaleX(0.962);transform-origin:0 0">Podlahové vytápění</div>
<div class="t" style="left:170px;top:74.6px;font-size:18.5px;letter-spacing:0.09px">šíření sálavého tepla podlahou</div>
<div class="t" style="left:371.5px;top:120.7px;font-size:20px;font-weight:bold;color:#a21e2c;transform:scaleX(0.87);transform-origin:0 0;-webkit-text-stroke:0.5px #a21e2c">A)</div>
<div class="t" style="left:371px;top:161.6px;font-size:18.5px;letter-spacing:-0.14px">Šíření sálavého tepla</div>
<div class="t" style="left:371px;top:186.5px;font-size:18.5px;letter-spacing:0.16px">do základů stavby bez použití</div>
<div class="t" style="left:371px;top:210.1px;font-size:18.5px;letter-spacing:0.45px">termoreflexní fólie</div>
<div class="t" style="left:371.5px;top:235.6px;font-size:20px;font-weight:bold;color:#a21e2c;transform:scaleX(0.87);transform-origin:0 0;-webkit-text-stroke:0.5px #a21e2c">B)</div>
<div class="t" style="left:371px;top:270.9px;font-size:18.5px;letter-spacing:0.06px">Odraz sálavého tepla zpět</div>
<div class="t" style="left:371px;top:295.2px;font-size:18.5px;letter-spacing:0.49px">do vytápěného prostoru</div>
<div class="t" style="left:371px;top:318.6px;font-size:18.5px;letter-spacing:0.44px">při použití termoreflexní</div>
<div class="t" style="left:371px;top:342.2px;font-size:18.5px;letter-spacing:-0.35px">fólie SUNFLEX Floor Plus</div>
</body></html>
